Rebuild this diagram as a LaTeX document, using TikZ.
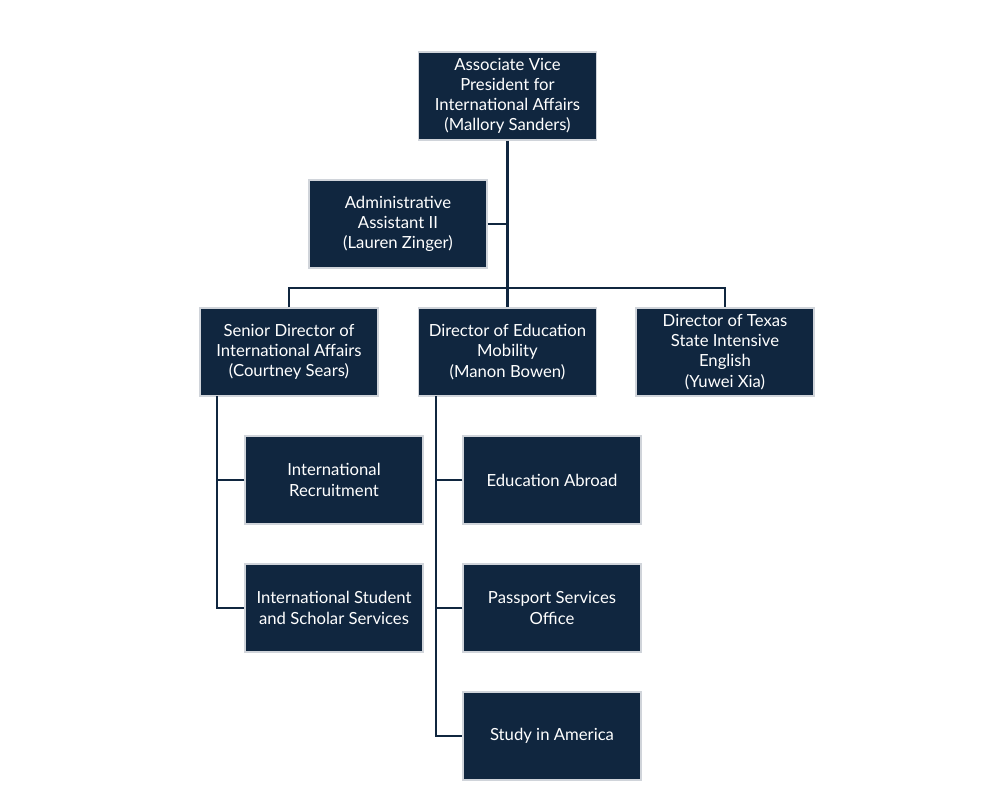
\documentclass[tikz,border=0pt]{standalone}
\usepackage{fontspec}
\setmainfont{Lato}
\definecolor{navy}{HTML}{10263F}
\definecolor{rim}{HTML}{D0D4DA}
\begin{document}
\begin{tikzpicture}[x=0.02cm,y=-0.02cm]
    \tikzstyle{box}=[fill=navy,draw=rim,line width=0.6pt,text=white,minimum width=3.56cm,minimum height=1.76cm,align=center,font=\fontsize{9.5}{11.5}\selectfont,inner sep=1pt]
    \tikzstyle{link}=[navy,line width=1.3pt]
    \useasboundingbox (0,0) rectangle (985,796);
    % top levels
    \node[box] (avp) at (507.5,96) {Associate Vice\\President for\\International Affairs\\(Mallory Sanders)};
    \node[box] (admin) at (398,224) {Administrative\\Assistant II\\(Lauren Zinger)};
    \node[box] (senior) at (289,352) {Senior Director of\\International Affairs\\(Courtney Sears)};
    \node[box] (edu) at (507.5,352) {Director of Education\\Mobility\\(Manon Bowen)};
    \node[box] (texas) at (725,352) {Director of Texas\\State Intensive\\English\\(Yuwei Xia)};
    % units
    \node[box] (recruit) at (334,480) {International\\Recruitment};
    \node[box] (isss) at (334,608) {International Student\\and Scholar Services};
    \node[box] (abroad) at (552,480) {Education Abroad};
    \node[box] (passport) at (552,608) {Passport Services\\Office};
    \node[box] (america) at (552,736) {Study in America};
    % connectors
    \coordinate (bus) at (507.5,288);
    \coordinate (stemS) at (217,396);
    \coordinate (stemE) at (436,396);
    \draw[link] (avp) -- (bus);
    \draw[link] (admin) -- (admin -| avp);
    \draw[link] (senior) |- (bus) -| (texas);
    \draw[link] (bus) -- (edu);
    \draw[link] (stemS) |- (isss);
    \draw[link] (recruit) -- (recruit -| stemS);
    \draw[link] (stemE) |- (america);
    \draw[link] (abroad) -- (abroad -| stemE);
    \draw[link] (passport) -- (passport -| stemE);
\end{tikzpicture}
\end{document}
